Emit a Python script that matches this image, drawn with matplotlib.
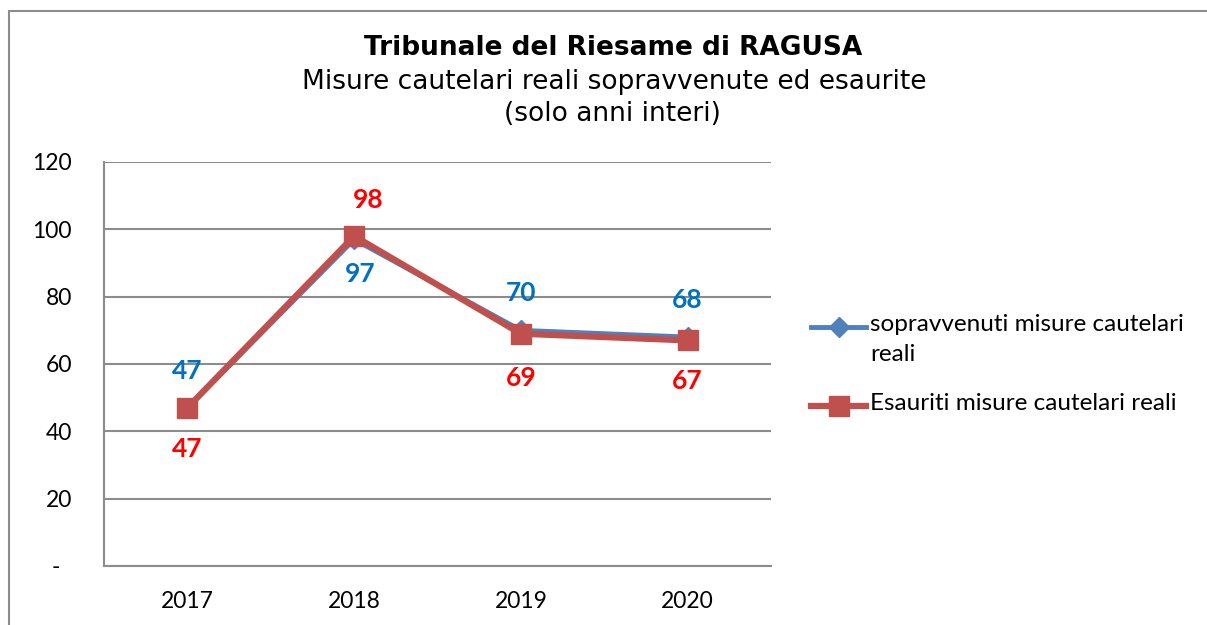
import numpy as np
import matplotlib
matplotlib.use("Agg")
import matplotlib.pyplot as plt
from matplotlib.patches import Rectangle
from matplotlib.lines import Line2D

years = ["2017", "2018", "2019", "2020"]
sopravvenuti = [47, 97, 70, 68]
esauriti = [47, 98, 69, 67]
y_ticks = [0, 20, 40, 60, 80, 100, 120]
y_labels = ["-  ", "20", "40", "60", "80", "100", "120"]

blue = "#4F81BD"
red = "#C0504D"
grid_col = "#8C8C8C"
body_font = ["Lato", "DejaVu Sans"]
W, H = 1207, 625

fig = plt.figure(figsize=(12.07, 6.25), dpi=100)
ax = fig.add_axes([104 / W, 1 - 566 / H, 667 / W, 404 / H])

# outer chart frame (cut off at right and bottom)
fig.patches.append(Rectangle((9 / W, -0.2), 1.2, 1 - 11 / H + 0.2,
                             transform=fig.transFigure, fill=False,
                             edgecolor=grid_col, linewidth=1.5, zorder=0))

blue_style = dict(color=blue, lw=3.5, marker="D", ms=10, markeredgecolor=blue)
red_style = dict(color=red, lw=4.5, marker="s", ms=14, markeredgecolor=red)

x = np.arange(len(years))
ax.plot(x, sopravvenuti, zorder=3, **blue_style)
ax.plot(x, esauriti, zorder=4, **red_style)

# data labels
lab_kw = dict(ha="center", va="center", fontsize=19, fontweight="bold", family=body_font)
for i, v in enumerate(sopravvenuti):
    off = (6, -35) if i == 1 else (0, 37)
    ax.annotate(str(v), (i, v), xytext=off, textcoords="offset pixels",
                color="#0070C0", **lab_kw)
for i, v in enumerate(esauriti):
    if i == 1:
        off = (14, 36)
    elif i == 2:
        off = (0, -44)
    else:
        off = (0, -41)
    ax.annotate(str(v), (i, v), xytext=off, textcoords="offset pixels",
                color="#FF0000", **lab_kw)

ax.set_xlim(-0.5, len(years) - 0.5)
ax.set_ylim(0, 120)
ax.set_xticks(x)
ax.set_xticklabels(years, fontsize=16.5, family=body_font)
ax.set_yticks(y_ticks)
ax.set_yticklabels(y_labels, fontsize=16.5, family=body_font)
ax.tick_params(axis="both", length=0)
ax.tick_params(axis="y", pad=23)
ax.tick_params(axis="x", pad=18)
ax.grid(axis="y", color=grid_col, lw=1.5)
ax.set_axisbelow(True)
for s in ["top", "right"]:
    ax.spines[s].set_visible(False)
for s in ["left", "bottom"]:
    ax.spines[s].set_color(grid_col)
    ax.spines[s].set_linewidth(1.5)

fig.text(613 / W, 1 - 48 / H, "Tribunale del Riesame di RAGUSA",
         ha="center", va="center", fontsize=19, fontweight="bold", family="DejaVu Sans")
fig.text(614 / W, 1 - 82 / H, "Misure cautelari reali sopravvenute ed esaurite",
         ha="center", va="center", fontsize=19, family="DejaVu Sans")
fig.text(612 / W, 1 - 114 / H, "(solo anni interi)",
         ha="center", va="center", fontsize=19, family="DejaVu Sans")

# legend, drawn by hand so the handle sits on the first line of the wrapped label
leg_entries = [(blue_style, "sopravvenuti misure cautelari\nreali", 327),
               (red_style, "Esauriti misure cautelari reali", 406)]
for style, text, yc in leg_entries:
    yf = 1 - yc / H
    fig.lines.append(Line2D([811 / W, 866 / W], [yf, yf], transform=fig.transFigure,
                            **{k: v for k, v in style.items() if k != "marker"}))
    fig.lines.append(Line2D([838.5 / W], [yf], transform=fig.transFigure,
                            linestyle="none", marker=style["marker"], ms=style["ms"],
                            color=style["color"]))
    fig.text(870 / W, yf + 13 / H, text, ha="left", va="top", fontsize=17.5,
             family=body_font, linespacing=1.55)

fig.savefig("out.png", dpi=100)
